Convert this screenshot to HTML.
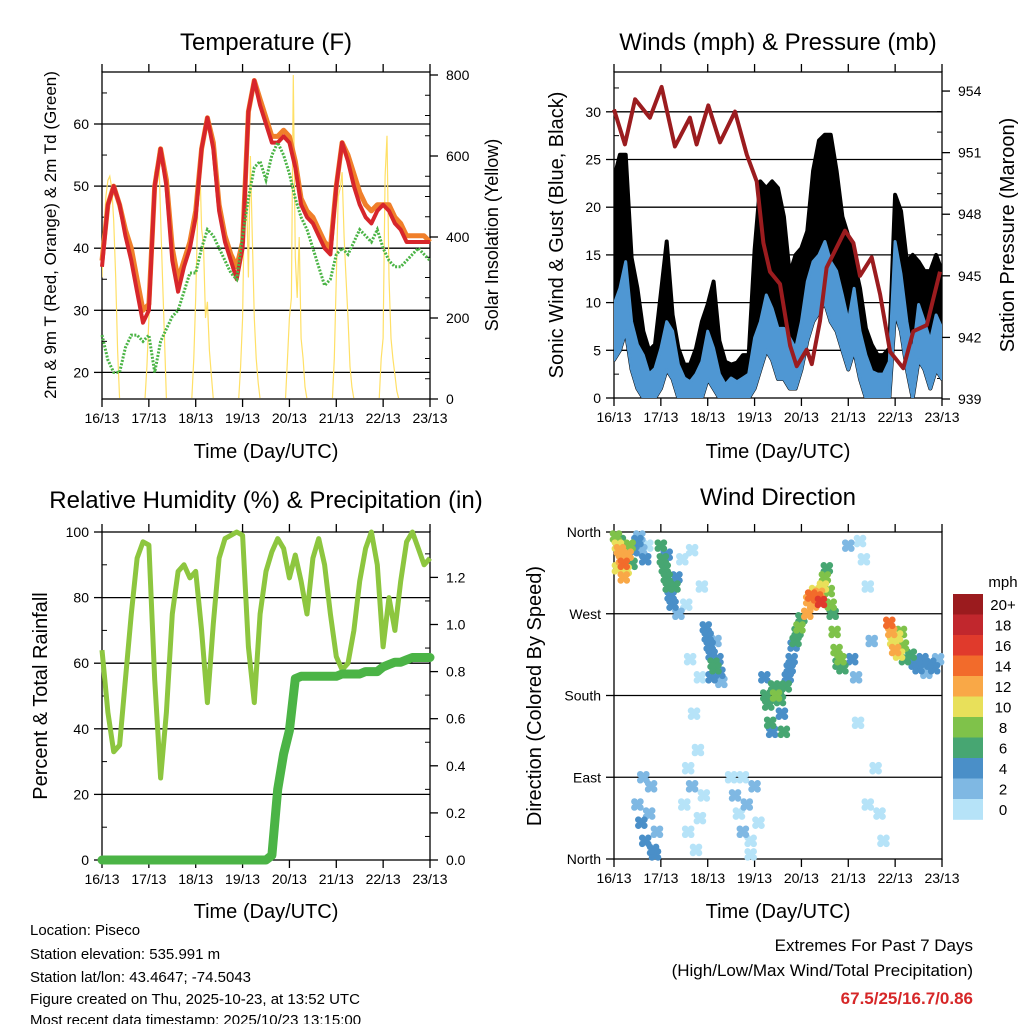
<!DOCTYPE html>
<html><head><meta charset="utf-8"><style>
html,body{margin:0;padding:0;background:#fff;}
svg{display:block;font-family:"Liberation Sans",sans-serif;}
</style></head><body>
<svg id="c" width="1024" height="1024" viewBox="0 0 1024 1024" xmlns="http://www.w3.org/2000/svg">
<g font-size="24" text-anchor="middle" fill="#000">
<text x="266" y="50">Temperature (F)</text>
<text x="778" y="50">Winds (mph) &amp; Pressure (mb)</text>
<text x="266" y="508">Relative Humidity (%) &amp; Precipitation (in)</text>
<text x="778" y="505">Wind Direction</text>
</g>
<g font-size="20" text-anchor="middle">
<text x="266" y="458">Time (Day/UTC)</text>
<text x="778" y="458">Time (Day/UTC)</text>
<text x="266" y="918">Time (Day/UTC)</text>
<text x="778" y="918">Time (Day/UTC)</text>
<text transform="translate(56,235) rotate(-90)" font-size="17">2m &amp; 9m T (Red, Orange) &amp; 2m Td (Green)</text>
<text transform="translate(498,235) rotate(-90)" font-size="18">Solar Insolation (Yellow)</text>
<text transform="translate(563,235) rotate(-90)">Sonic Wind &amp; Gust (Blue, Black)</text>
<text transform="translate(1014,235) rotate(-90)">Station Pressure (Maroon)</text>
<text transform="translate(47,696) rotate(-90)">Percent &amp; Total Rainfall</text>
<text transform="translate(541,696) rotate(-90)">Direction (Colored By Speed)</text>
</g>
<g id="plots"></g>
<g font-size="15">
<text x="30" y="935">Location: Piseco</text>
<text x="30" y="959">Station elevation: 535.991 m</text>
<text x="30" y="982">Station lat/lon: 43.4647; -74.5043</text>
<text x="30" y="1004">Figure created on Thu, 2025-10-23, at 13:52 UTC</text>
<text x="30" y="1025">Most recent data timestamp: 2025/10/23 13:15:00</text>
</g>
<g font-size="17" text-anchor="end">
<text x="973" y="951">Extremes For Past 7 Days</text>
<text x="973" y="976">(High/Low/Max Wind/Total Precipitation)</text>
<text x="973" y="1004" fill="#d62728" font-weight="bold">67.5/25/16.7/0.86</text>
</g>
</svg>
<script>
// ---- data (3-hourly samples, hours since 16/13) ----
const hours3 = [0,3,6,9,12,15,18,21,24,27,30,33,36,39,42,45,48,51,54,57,60,63,66,69,72,75,78,81,84,87,90,93,96,99,102,105,108,111,114,117,120,123,126,129,132,135,138,141,144,147,150,153,156,159,162,165,168];
const dayLabels = ["16/13","17/13","18/13","19/13","20/13","21/13","22/13","23/13"];
const temp2m = [37,47,50,47,42,38,33,28,30,50,56,50,38,33,37,40,45,56,61,56,46,41,38,35,40,62,67,63,60,57,57,58,57,53,47,45,44,42,40,39,50,57,54,50,47,45,44,46,47,46,44,43,41,41,41,41,41];
const temp9m = [38,47,50,47,43,40,35,30,31,50,56,51,40,35,38,41,46,56,61,57,47,42,39,37,41,62,67,64,61,58,58,59,58,54,48,46,45,43,41,40,50,57,55,52,49,47,46,47,47,47,45,44,42,42,42,42,41];
const dewpt = [26,22,20,20,24,26,26,25,26,20,25,27,29,30,33,36,36,40,43,42,40,38,36,35,42,48,53,54,51,55,57,55,52,48,45,43,40,37,34,35,39,40,39,41,43,42,41,43,40,38,37,37,38,39,40,39,38];
const solarHours = [0,1,2,3,4,5,6,7,8,9,22,23,24,25,26,27,28,29,30,31,32,33,46,47,48,49,50,51,52,53,54,55,56,57,70,71,72,73,74,75,76,77,78,79,80,81,94,95,96,97,98,99,100,101,102,103,104,105,118,119,120,121,122,123,124,125,126,127,128,129,142,143,144,145,146,147,148,149,150,151,152,153];
const solarVals = [300,420,500,540,550,520,440,300,120,0, 0,80,200,350,480,560,580,620,450,300,150,0, 0,100,250,460,600,420,380,200,240,120,60,0, 0,80,200,500,520,300,600,400,200,100,40,0, 0,100,200,250,800,350,250,400,150,100,30,0, 0,100,300,500,520,560,400,300,200,80,30,0, 0,100,150,550,650,300,150,100,60,20,0,0];
const windLo = [4,5,7,3,1,0,0,0,1,3,2,0,0,0,0,0,2,1,0,0,0,0,0,0,1,3,5,4,2,2,1,1,3,6,8,9,10,8,7,5,3,5,2,0,0,0,0,0,9,7,3,0,4,3,1,3,2];
const windHi = [9.8,11.5,14.3,8,5.6,4.5,2.5,3.1,5.2,8,7,3.5,2.1,1.7,2.5,3.8,7,5.2,2.5,1.4,2.1,1.7,2.1,2.5,6.3,8,10.8,9.4,7.3,7.3,6.3,5.2,8,12.2,14.3,15,16.4,14.3,13.3,10.8,8,11.5,7,4.5,2.8,2.5,2.5,3.8,16.4,13,8,4.5,9.8,8,6,8.7,7.3];
const gustHi = [23,25.5,25.5,14.7,11.5,7,5,5.6,11,16.4,8.7,5.2,3.5,3.5,5.2,8,9.8,12.2,6,3.8,3.5,3.7,4.5,4.5,15.5,22.7,22,22.7,22,19,13,15,15.7,17.5,23.8,27,27.6,27.6,23.8,19,17,14.3,11.5,7.3,5.6,4.5,4.5,5.2,21.3,19.6,14.3,15,14.3,13.3,13.3,15,13.3];
const presHours = [0,5.6,10.8,18.4,24.4,31.2,38.9,42.3,48.3,54.3,62,68,73.1,76.5,79.9,85,90.2,93.6,98.7,101.3,105.5,108.9,118.3,122.6,126,132,136.3,141.4,148.2,153.3,160.2,167];
const presVals = [953.1,951.4,953.6,952.7,954.2,951.3,952.7,951.4,953.3,951.5,953.0,950.9,949.6,946.6,945.2,944.6,941.6,940.6,941.4,940.7,942.8,945.4,947.2,946.6,945.0,945.9,944.1,941.3,940.5,942.3,942.6,945.2];
const rh = [64,45,33,35,55,75,92,97,96,55,25,45,75,88,90,86,88,70,48,72,92,98,99,100,99,65,48,75,88,94,98,95,86,93,85,75,92,98,90,75,62,58,60,70,85,95,100,90,65,80,70,85,97,100,95,90,92];
const rain = [0,0,0,0,0,0,0,0,0,0,0,0,0,0,0,0,0,0,0,0,0,0,0,0,0,0,0,0,0,0.02,0.3,0.45,0.55,0.77,0.78,0.78,0.78,0.78,0.78,0.78,0.78,0.79,0.79,0.79,0.79,0.80,0.80,0.80,0.82,0.83,0.84,0.84,0.85,0.86,0.86,0.86,0.86];
const dirHours = [1,2,3,4,5,6,7,8,2,5,9,10,3, 12,14,16,13,17, 24,25,26,27,28,29,30,31,32,27,33, 12,14,16,18,20,22,19,15,21, 35,37,39,41,43,45,40,44,46,38, 47,48,49,50,51,52,53,54,55,50,52, 36,38,40,42,44, 60,62,64,66,68,70,72,74,66,70, 77,78,79,80,81,82,83,84,85,86,87,88,89,90,91,92,93,94,95,96, 99,100,101,102,103,104,105,106,107,108,109,110,111,112,113,114,115,116,117, 141,142,143,144,145,146,147,148,149, 152,154,156,158,160,162,164,166, 122,124,126,128,130,132,134,136,138,130,125,120];
const dirDeg = [355,345,340,330,325,318,335,345,320,310,325,340,350, 350,340,330,355,345, 345,330,320,310,300,290,280,300,310,335,270, 60,40,20,50,10,30,80,90,5, 330,280,220,160,120,300,340,200,70,100, 255,245,235,225,215,210,220,205,195,200,240, 60,30,80,10,45, 90,70,50,30,60,20,80,40,90,5, 200,180,170,150,140,190,180,185,175,160,140,190,200,210,220,235,240,250,255,265, 270,285,290,280,295,288,292,283,300,310,320,295,280,270,250,230,215,220,210, 260,250,240,230,245,225,250,235,220, 225,215,210,220,205,215,210,220, 220,200,350,330,300,240,100,50,20,60,150,345];
const dirSpd = [9,11,12,13,14,11,12,9,10,12,7,4,6, 4,3,4,2,1, 6,7,6,7,6,5,4,6,5,4,3, 3,4,4,3,4,3,2,2,5, 1,1,1,1,1,1,1,1,1,1, 4,4,4,5,6,6,5,4,3,4,3, 1,1,2,1,1, 1,2,1,2,3,1,2,1,1,1, 5,6,7,6,5,7,8,7,6,5,6,6,5,4,5,4,6,7,8,7, 12,13,14,12,11,15,13,16,10,8,6,9,9,7,8,8,7,8,6, 14,12,10,13,11,10,8,9,6, 6,4,4,5,3,4,4,3, 4,3,1,1,1,2,1,1,1,1,1,2];
const speedLabels = ["20+","18","16","14","12","10","8","6","4","2","0"];
const speedColors = ["#9b1b1e","#c1272d","#e03a2c","#f26b2b","#f9a847","#e8e05a","#7fc24a","#47a672","#4a8fc8","#7fb8e3","#b6e3f8"];

// ---- helpers ----
const NS="http://www.w3.org/2000/svg";
const root=document.getElementById('plots');
function mk(tag,attrs,parent){const e=document.createElementNS(NS,tag);for(const k in attrs)e.setAttribute(k,attrs[k]);(parent||root).appendChild(e);return e;}
function panel(x0,x1,y0,y1){return {x0,x1,y0,y1,xs:t=>x0+(x1-x0)*t/168};}
const P1=panel(102,430,72,399), P2=panel(614,942,72,398), P3=panel(102,430,532,860), P4=panel(614,942,532,859);
const tY=v=>124+(60-v)*6.21;
const solY=v=>399-v*0.405;
const wY=v=>398-v*9.54;
const pY=v=>399-(v-939)*20.53;
const rhY=v=>860-v*3.28;
const rnY=v=>860-v*235.5;
const dY=v=>859-v*327/360;
function pathFrom(xs,ys,xf,yf,gap){return xs.map((t,i)=>((i===0||(gap&&t-xs[i-1]>gap))?'M':'L')+xf(t).toFixed(1)+','+yf(ys[i]).toFixed(1)).join('');}

function frame(P,name,gridVals,gy){
  const g=mk('g',{});
  
  
  gridVals.forEach(v=>{const l=mk('line',{x1:P.x0,x2:P.x1,y1:gy(v),y2:gy(v),stroke:'#000','stroke-width':1.3},g);
    
    });
  const r=mk('rect',{x:P.x0,y:P.y0,width:P.x1-P.x0,height:P.y1-P.y0,fill:'none',stroke:'#000','stroke-width':1.3},g);
  
  
  dayLabels.forEach((d,i)=>{const x=P.xs(i*24);
    mk('line',{x1:x,x2:x,y1:P.y1,y2:P.y1+8,stroke:'#000','stroke-width':1.3},g);
    mk('line',{x1:x,x2:x,y1:P.y0,y2:P.y0-8,stroke:'#000','stroke-width':1.3},g);
    const t=mk('text',{x:x,y:P.y1+24,'font-size':14,'text-anchor':'middle'},g);t.textContent=d;
    
    });
  return g;
}
function yTicks(g,P,vals,fy,labels,side){
  vals.forEach((v,i)=>{const y=fy(v);
    const x=side==='l'?P.x0:P.x1, d=side==='l'?-8:8;
    mk('line',{x1:x,x2:x+d,y1:y,y2:y,stroke:'#000','stroke-width':1.3},g);
    const t=mk('text',{x:side==='l'?x-13:x+16,y:y+5,'font-size':14,'text-anchor':side==='l'?'end':'start'},g);
    t.textContent=labels[i];
    
    });
}
function minor(g,P,vals,fy,side){vals.forEach(v=>{const y=fy(v),x=side==='l'?P.x0:P.x1,d=side==='l'?5:-5;
  mk('line',{x1:x,x2:x+d,y1:y,y2:y,stroke:'#000','stroke-width':1},g);});}

// ---- Panel 1: temperature ----
(function(){
  const g=frame(P1,'temperature',[20,30,40,50,60],tY);
  yTicks(g,P1,[20,30,40,50,60],tY,['20','30','40','50','60'],'l');
  yTicks(g,P1,[0,200,400,600,800],solY,['0','200','400','600','800'],'r');
  minor(g,P1,[25,35,45,55,65],tY,'l');
  minor(g,P1,[50,100,150,250,300,350,450,500,550,650,700,750],solY,'r');
  const cp=mk('clipPath',{id:'cp1'});mk('rect',{x:P1.x0,y:P1.y0,width:P1.x1-P1.x0,height:P1.y1-P1.y0-1},cp);
  const s=mk('path',{d:pathFrom(solarHours,solarVals,P1.xs,solY,2),fill:'none',stroke:'#ffe066','stroke-width':1.2,'clip-path':'url(#cp1)'});
  
  
  const o=mk('path',{d:pathFrom(hours3,temp9m,P1.xs,tY),fill:'none',stroke:'#f07f2a','stroke-width':5,'stroke-linejoin':'round'});
  
  
  const r=mk('path',{d:pathFrom(hours3,temp2m,P1.xs,tY),fill:'none',stroke:'#d7262b','stroke-width':4,'stroke-linejoin':'round'});
  
  
  const d=mk('path',{d:pathFrom(hours3,dewpt,P1.xs,tY),fill:'none',stroke:'#4bb446','stroke-width':3,'stroke-dasharray':'2 1.5'});
  
  
})();

// ---- Panel 2: winds & pressure ----
(function(){
  const g=frame(P2,'winds',[5,10,15,20,25,30],wY);
  yTicks(g,P2,[0,5,10,15,20,25,30],wY,['0','5','10','15','20','25','30'],'l');
  yTicks(g,P2,[939,942,945,948,951,954],pY,['939','942','945','948','951','954'],'r');
  minor(g,P2,[2.5,7.5,12.5,17.5,22.5,27.5,32.5],wY,'l');
  minor(g,P2,[940,941,943,944,946,947,949,950,952,953],pY,'r');
  const bandD=(lo,hi,fy)=>hours3.map((t,i)=>(i?'L':'M')+P2.xs(t).toFixed(1)+','+fy(hi[i]).toFixed(1)).join('')+
     hours3.slice().reverse().map((t,j)=>'L'+P2.xs(t).toFixed(1)+','+fy(lo[hours3.length-1-j]).toFixed(1)).join('')+'Z';
  const cp=mk('clipPath',{id:'cp2'});mk('rect',{x:P2.x0,y:P2.y0,width:P2.x1-P2.x0,height:P2.y1-P2.y0},cp);
  const gb=mk('path',{d:bandD(windLo,gustHi,wY),fill:'#000',stroke:'#000','stroke-width':4,'stroke-linejoin':'round','clip-path':'url(#cp2)'});
  
  
  const wb=mk('path',{d:bandD(windLo,windHi,wY),fill:'#4f97d3',stroke:'#4f97d3','stroke-width':3,'stroke-linejoin':'round','clip-path':'url(#cp2)'});
  
  
  const p=mk('path',{d:pathFrom(presHours,presVals,P2.xs,pY),fill:'none',stroke:'#9b1c1f','stroke-width':4,'stroke-linejoin':'round'});
  
  
})();

// ---- Panel 3: RH & precipitation ----
(function(){
  const g=frame(P3,'humidity',[20,40,60,80],rhY);
  yTicks(g,P3,[0,20,40,60,80,100],rhY,['0','20','40','60','80','100'],'l');
  yTicks(g,P3,[0,0.2,0.4,0.6,0.8,1.0,1.2],rnY,['0.0','0.2','0.4','0.6','0.8','1.0','1.2'],'r');
  minor(g,P3,[10,30,50,70,90],rhY,'l');
  minor(g,P3,[0.1,0.3,0.5,0.7,0.9,1.1,1.3],rnY,'r');
  const h=mk('path',{d:pathFrom(hours3,rh,P3.xs,rhY),fill:'none',stroke:'#8dc63f','stroke-width':5,'stroke-linejoin':'round'});
  
  
  const r=mk('path',{d:pathFrom(hours3,rain,P3.xs,rnY),fill:'none',stroke:'#4bb446','stroke-width':9,'stroke-linejoin':'round','stroke-linecap':'round'});
  
  
})();

// ---- Panel 4: wind direction ----
(function(){
  const g=frame(P4,'direction',[90,180,270],dY);
  yTicks(g,P4,[0,90,180,270,360],dY,['North','East','South','West','North'],'l');
  const pts=mk('g',{});
  
  
  const order=dirHours.map((_,i)=>i).sort((a,b)=>dirSpd[a]-dirSpd[b]);
  order.forEach(i=>{
    const idx=Math.max(0,10-Math.min(10,Math.floor(dirSpd[i]/2)));
    const x=P4.xs(dirHours[i]), y=dY(dirDeg[i]);
    [[0,0],[-3,-3],[3,3],[-3,3],[3,-3]].forEach(o=>{
      const c=mk('circle',{cx:x+o[0],cy:y+o[1],r:3.3,fill:speedColors[idx]},pts);
      
      
    });
  });
  const lg=mk('g',{});
  
  
  const t=mk('text',{x:1003,y:587,'font-size':15,'text-anchor':'middle'},lg);t.textContent='mph';
  speedLabels.forEach((l,i)=>{
    const y=594+i*20.5;
    const r=mk('rect',{x:953,y:y,width:30,height:20.8,fill:speedColors[i]},lg);
    
    
    const tx=mk('text',{x:1003,y:y+16,'font-size':15,'text-anchor':'middle'},lg);tx.textContent=l;
    
    
  });
})();
</script>
</body></html>
